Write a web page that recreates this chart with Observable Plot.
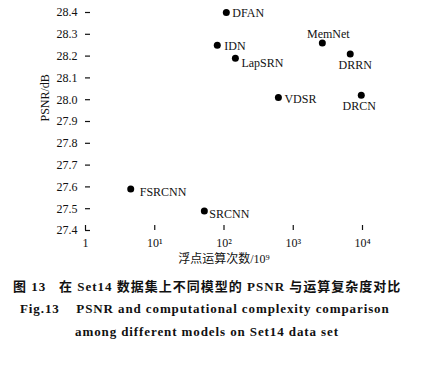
<!DOCTYPE html>
<html><head><meta charset="utf-8">
<script src="https://cdn.jsdelivr.net/npm/d3@7"></script>
<script src="https://cdn.jsdelivr.net/npm/@observablehq/plot@0.6"></script>
<style>
body{margin:0;background:#fff;width:425px;font-family:"Liberation Serif","Noto Sans CJK SC",serif;}
#cap{text-align:left;font-weight:bold;color:#111;}
.l1{font-size:13px;margin-left:13px;margin-top:6px;letter-spacing:1px;font-family:"Liberation Serif","Noto Sans CJK SC",serif;}
.l2{font-size:13px;margin-left:20px;margin-top:6px;letter-spacing:0.9px;}
.l3{font-size:13px;margin-left:75px;margin-top:7px;letter-spacing:0.9px;}
</style></head><body>
<div id="chart"></div>
<div id="cap">
<div class="l1">图 13&nbsp;&nbsp;&nbsp;在 Set14 数据集上不同模型的 PSNR 与运算复杂度对比</div>
<div class="l2">Fig.13&nbsp;&nbsp;&nbsp;&nbsp;PSNR and computational complexity comparison</div>
<div class="l3">among different models on Set14 data set</div>
</div>
<script>
const models = ["DFAN","IDN","LapSRN","MemNet","DRRN","VDSR","DRCN","FSRCNN","SRCNN"];
const flops  = [108, 80, 146, 2630, 6650, 610, 9600, 4.5, 52];
const psnr   = [28.40, 28.25, 28.19, 28.26, 28.21, 28.01, 28.02, 27.59, 27.49];
const xTicks = [1, 10, 100, 1000, 10000];
const xTickLabels = ["1", "10¹", "10²", "10³", "10⁴"];
const yTicks = [27.4, 27.5, 27.6, 27.7, 27.8, 27.9, 28.0, 28.1, 28.2, 28.3, 28.4];

const data = models.map((m, i) => ({model: m, flops: flops[i], psnr: psnr[i]}));

// label placement (style only)
const offsets = {
  DFAN:   {dx: 6, dy: 1, a: "start"},
  IDN:    {dx: 7, dy: 1, a: "start"},
  LapSRN: {dx: 6, dy: 5, a: "start"},
  MemNet: {dx: 6, dy: -9, a: "middle"},
  DRRN:   {dx: 5, dy: 11, a: "middle"},
  VDSR:   {dx: 6, dy: 2, a: "start"},
  DRCN:   {dx: -2, dy: 11, a: "middle"},
  FSRCNN: {dx: 9, dy: 3, a: "start"},
  SRCNN:  {dx: 5, dy: 3, a: "start"}
};

const textMarks = data.map(d => Plot.text([d], {
  x: "flops", y: "psnr", text: "model",
  dx: offsets[d.model].dx, dy: offsets[d.model].dy,
  textAnchor: offsets[d.model].a, fontSize: 12, fill: "#111"
}));

const chart = Plot.plot({
  width: 425, height: 270,
  marginTop: 12, marginBottom: 40, marginLeft: 85, marginRight: 63,
  style: {fontFamily: "Liberation Serif, serif", fontSize: "12px", color: "#111", background: "#fff"},
  x: {type: "log", domain: [1, 10000]},
  y: {domain: [27.4, 28.4]},
  marks: [
    // inward tick marks (shifted into the plot)
    Plot.axisX({ticks: xTicks, tickSize: 5, dy: -5, text: null, line: false, label: null, strokeWidth: 1.2}),
    Plot.axisY({ticks: yTicks, tickSize: 5, dx: 5, text: null, line: false, label: null, strokeWidth: 1.2}),
    // tick labels and axis lines
    Plot.axisX({ticks: xTicks, tickFormat: d => xTickLabels[xTicks.indexOf(d)], tickSize: 0, tickPadding: 8, line: true, label: null, fontSize: 12, strokeWidth: 1.2}),
    Plot.axisY({ticks: yTicks, tickFormat: d => d.toFixed(1), tickSize: 0, tickPadding: 8, line: true, label: null, fontSize: 12, strokeWidth: 1.2}),
    Plot.text(["PSNR/dB"], {frameAnchor: "left", dx: -40, rotate: -90, text: d => d, fontSize: 12, fill: "#111"}),
    Plot.text(["浮点运算次数/10⁹"], {frameAnchor: "bottom", dy: 32, text: d => d, fontSize: 12, fill: "#111", fontFamily: "Liberation Serif, Noto Sans CJK SC, serif"}),
    Plot.dot(data, {x: "flops", y: "psnr", r: 3.5, fill: "#000"}),
    ...textMarks
  ]
});
document.getElementById("chart").appendChild(chart);
</script>
</body></html>
